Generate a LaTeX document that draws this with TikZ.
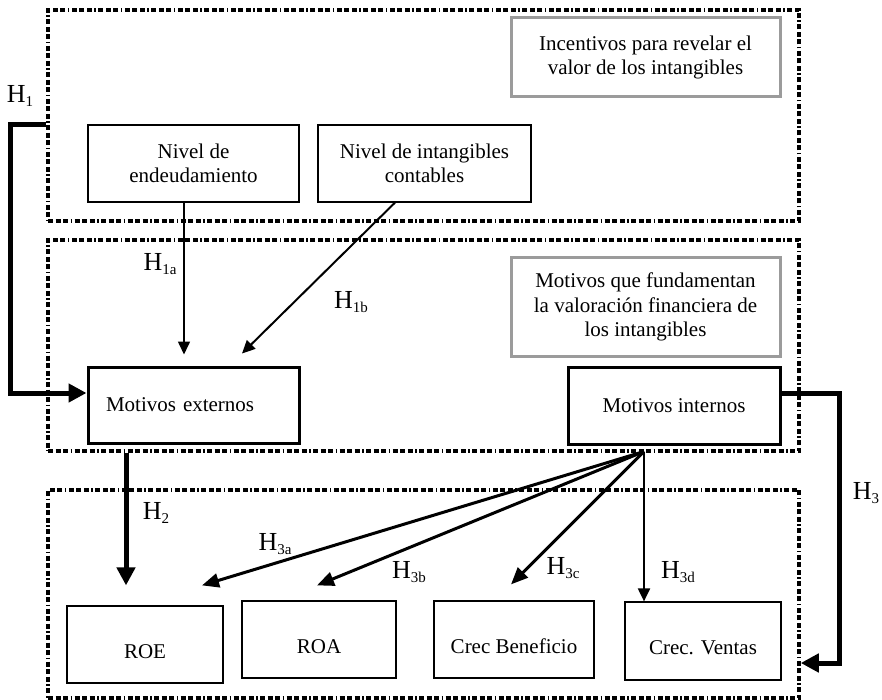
\documentclass[tikz,border=0pt]{standalone}
\usepackage{fontspec}
\setmainfont{Liberation Serif}
\usetikzlibrary{arrows.meta,positioning}
\definecolor{framegray}{RGB}{155,155,155}
\newcommand{\hyp}[1]{H\raisebox{-4pt}{\fontsize{15}{15}\selectfont #1}}

\begin{document}
\begin{tikzpicture}[x=1pt,y=-1pt,
		zone/.style={draw, line width=3.5pt, dash pattern=on 5pt off 2.5pt on 5pt off 2.5pt on 5pt off 2.5pt on 1.5pt off 2.5pt, minimum width=751pt, inner sep=0pt},
		box/.style={draw, line width=1.2pt, align=center, inner sep=0pt, font=\fontsize{21}{24.5}\selectfont},
		titlebox/.style={box, draw=framegray, line width=3pt},
		mainbox/.style={box, line width=3pt},
		outcome/.style={box, text height=27pt, text depth=0pt},
		hlabel/.style={font=\fontsize{26}{26}\selectfont, inner sep=0pt},
		thinarrow/.style={-{Triangle[length=13pt,width=12pt]}, line width=1.6pt},
		midarrow/.style={-{Triangle[length=17pt,width=14pt]}, line width=3pt},
		thickarrow/.style={-{Triangle[length=18pt,width=18pt]}, line width=5pt}]
		\useasboundingbox (0,0) rectangle (882,700);
		\node[zone, minimum height=211pt] (incent) at (423.5,115.5) {};
		\node[zone, minimum height=211pt] (motiv) at (423.5,345.5) {};
		\node[zone, minimum height=208pt] (outc) at (423.5,594) {};
		\node[titlebox, minimum width=269pt, minimum height=79pt] (tinc) at (645.5,57.5) {Incentivos para revelar el\\valor de los intangibles};
		\node[titlebox, minimum width=269pt, minimum height=98pt] (tmot) at (645.5,307) {Motivos que fundamentan\\la valoración financiera de\\los intangibles};
		\node[box, minimum width=211pt, minimum height=77pt] (ende) at (193.5,163.5) {Nivel de\\endeudamiento};
		\node[box, minimum width=213pt, minimum height=77pt] (intang) at (424.5,163.5) {Nivel de intangibles\\contables};
		\node[mainbox, minimum width=211pt, minimum height=76pt, text width=175pt, align=left] (mext) at (193.5,405) {Motivos externos};
		\node[mainbox, minimum width=212pt, minimum height=77pt] (mint) at (674,405.5) {Motivos internos};
		\node[outcome, minimum width=156pt, minimum height=77pt] (roe) at (145,644.5) {ROE};
		\node[outcome, minimum width=154pt, minimum height=77pt] (roa) at (319,639.5) {ROA};
		\node[outcome, minimum width=160pt, minimum height=77pt] (cben) at (514,639.5) {Crec Beneficio};
		\node[outcome, minimum width=156pt, minimum height=78pt] (cven) at (703,641) {Crec. Ventas};
		\draw[thickarrow] (ende.north -| incent.west) -- ++(-36,0) |- ([yshift=12pt]mext.west);
		\draw[thinarrow] ([xshift=-9.5pt]ende.south) -- ([shift={(-9.5,-11)}]mext.north);
		\draw[thinarrow, line width=2pt] ([xshift=-29.5pt]intang.south) -- ([shift={(48.5,-12)}]mext.north);
		\draw[thickarrow] ([shift={(-67.5,8)}]mext.south) -- ([shift={(-19,-20)}]roe.north);
		\foreach \tgt/\dx/\dy in {roe/57/-20, roa/-2/-15, cben/-3/-16}
			\draw[midarrow] ([shift={(-30,6)}]mint.south) -- ([shift={(\dx,\dy)}]\tgt.north);
		\draw[thinarrow, line width=2pt] ([shift={(-30,6)}]mint.south) -- ([xshift=-59pt]cven.north);
		\draw[thickarrow] ([yshift=12pt]mint.east) -- ++(58,0) |- ([yshift=-69pt]outc.east);
		\node[hlabel] (h1) at (20,96) {\hyp{1}};
		\node[hlabel] (h1a) at (160,264) {\hyp{1a}};
		\node[hlabel] (h1b) at (351,302) {\hyp{1b}};
		\node[hlabel] (h2) at (156,513) {\hyp{2}};
		\node[hlabel] (h3a) at (275,544) {\hyp{3a}};
		\node[hlabel] (h3b) at (409,572) {\hyp{3b}};
		\node[hlabel] (h3c) at (563,568) {\hyp{3c}};
		\node[hlabel] (h3d) at (678,572) {\hyp{3d}};
		\node[hlabel] (h3) at (866,493) {\hyp{3}};
		\end{tikzpicture}
\end{document}
